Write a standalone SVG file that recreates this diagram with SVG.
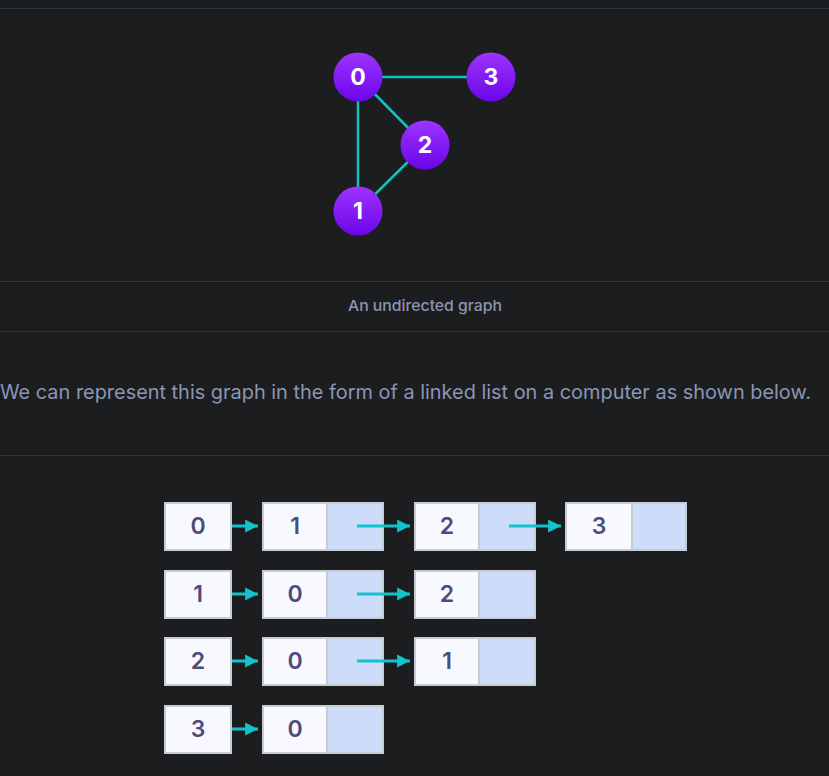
<svg xmlns="http://www.w3.org/2000/svg" width="829" height="776" viewBox="0 0 829 776">
<defs>
<linearGradient id="pg" x1="0" y1="0" x2="0" y2="1">
<stop offset="0" stop-color="#9d34ff"/>
<stop offset="1" stop-color="#6b05e8"/>
</linearGradient>
<marker id="ah" viewBox="0 0 10 10" refX="10" refY="5" markerWidth="4.3" markerHeight="4.6" markerUnits="strokeWidth" orient="auto">
<path d="M0,0 L10,5 L0,10 Z" fill="#11c4cc"/>
</marker>
<style>
.sep{stroke:#2e3440;stroke-width:1}
.edge{stroke:#12c2bd;stroke-width:2.5}
.node circle{fill:url(#pg)}
.nl{font-family:"Inter","Noto Sans",sans-serif;font-weight:700;font-size:23px;fill:#ffffff;text-anchor:middle}
.cap{font-family:"Inter","Noto Sans",sans-serif;font-weight:500;font-size:15px;fill:#8c96b2;text-anchor:middle}
.para{font-family:"Inter","Noto Sans",sans-serif;font-size:20px;fill:#8a96b4}
.bw{fill:#f8f9ff;stroke:#c6cbd4;stroke-width:2}
.bb{fill:#cddcf9}
.bo{fill:none;stroke:#c6cbd4;stroke-width:2}
.dt{font-family:"Inter","Noto Sans",sans-serif;font-weight:600;font-size:23px;fill:#4c4c7c;text-anchor:middle}
.arr{stroke:#11c4cc;stroke-width:3;fill:none;marker-end:url(#ah)}
</style>
</defs>
<rect width="829" height="776" fill="#1c1d1f"/>
<line class="sep" x1="0" y1="8.5" x2="829" y2="8.5"/>
<line class="sep" x1="0" y1="281.5" x2="829" y2="281.5"/>
<line class="sep" x1="0" y1="331.5" x2="829" y2="331.5"/>
<line class="sep" x1="0" y1="455.5" x2="829" y2="455.5"/>
<g id="edges">
<line class="edge" x1="358" y1="77" x2="491" y2="77"/>
<line class="edge" x1="358" y1="77" x2="358" y2="211"/>
<line class="edge" x1="358" y1="77" x2="425" y2="145"/>
<line class="edge" x1="425" y1="145" x2="358" y2="211"/>
</g>
<g id="n0" class="node"><circle cx="358" cy="77" r="24.5"/><text class="nl" x="358" y="85">0</text></g>
<g id="n3" class="node"><circle cx="491" cy="77" r="24.5"/><text class="nl" x="491" y="85">3</text></g>
<g id="n2" class="node"><circle cx="425" cy="145" r="24.5"/><text class="nl" x="425" y="153">2</text></g>
<g id="n1" class="node"><circle cx="358" cy="211" r="24.5"/><text class="nl" x="358" y="219">1</text></g>
<text class="cap" x="425" y="311" textLength="154" lengthAdjust="spacingAndGlyphs">An undirected graph</text>
<text class="para" x="0" y="399" textLength="811" lengthAdjust="spacingAndGlyphs">We can represent this graph in the form of a linked list on a computer as shown below.</text>
<g id="r0h"><rect class="bw" x="165" y="503" width="66" height="47"/><text class="dt" x="198" y="534">0</text></g>
<g id="r0a"><rect class="bb" x="263" y="503" width="120" height="47"/><rect class="bw" x="263" y="503" width="64" height="47"/><rect class="bo" x="263" y="503" width="120" height="47"/><text class="dt" x="295" y="534">1</text></g>
<g id="r0b"><rect class="bb" x="415" y="503" width="120" height="47"/><rect class="bw" x="415" y="503" width="64" height="47"/><rect class="bo" x="415" y="503" width="120" height="47"/><text class="dt" x="447" y="534">2</text></g>
<g id="r0c"><rect class="bb" x="566" y="503" width="120" height="47"/><rect class="bw" x="566" y="503" width="66" height="47"/><rect class="bo" x="566" y="503" width="120" height="47"/><text class="dt" x="599" y="534">3</text></g>
<g id="r1h"><rect class="bw" x="165" y="571" width="66" height="47"/><text class="dt" x="198" y="602">1</text></g>
<g id="r1a"><rect class="bb" x="263" y="571" width="120" height="47"/><rect class="bw" x="263" y="571" width="64" height="47"/><rect class="bo" x="263" y="571" width="120" height="47"/><text class="dt" x="295" y="602">0</text></g>
<g id="r1b"><rect class="bb" x="415" y="571" width="120" height="47"/><rect class="bw" x="415" y="571" width="64" height="47"/><rect class="bo" x="415" y="571" width="120" height="47"/><text class="dt" x="447" y="602">2</text></g>
<g id="r2h"><rect class="bw" x="165" y="638" width="66" height="47"/><text class="dt" x="198" y="669">2</text></g>
<g id="r2a"><rect class="bb" x="263" y="638" width="120" height="47"/><rect class="bw" x="263" y="638" width="64" height="47"/><rect class="bo" x="263" y="638" width="120" height="47"/><text class="dt" x="295" y="669">0</text></g>
<g id="r2b"><rect class="bb" x="415" y="638" width="120" height="47"/><rect class="bw" x="415" y="638" width="64" height="47"/><rect class="bo" x="415" y="638" width="120" height="47"/><text class="dt" x="447" y="669">1</text></g>
<g id="r3h"><rect class="bw" x="165" y="706" width="66" height="47"/><text class="dt" x="198" y="737">3</text></g>
<g id="r3a"><rect class="bb" x="263" y="706" width="120" height="47"/><rect class="bw" x="263" y="706" width="64" height="47"/><rect class="bo" x="263" y="706" width="120" height="47"/><text class="dt" x="295" y="737">0</text></g>
<g id="connectors">
<line class="arr" x1="232" y1="526" x2="258" y2="526"/>
<line class="arr" x1="357" y1="526" x2="410" y2="526"/>
<line class="arr" x1="509" y1="526" x2="561" y2="526"/>
<line class="arr" x1="232" y1="594" x2="258" y2="594"/>
<line class="arr" x1="357" y1="594" x2="410" y2="594"/>
<line class="arr" x1="232" y1="661" x2="258" y2="661"/>
<line class="arr" x1="357" y1="661" x2="410" y2="661"/>
<line class="arr" x1="232" y1="729" x2="258" y2="729"/>
</g>
</svg>
